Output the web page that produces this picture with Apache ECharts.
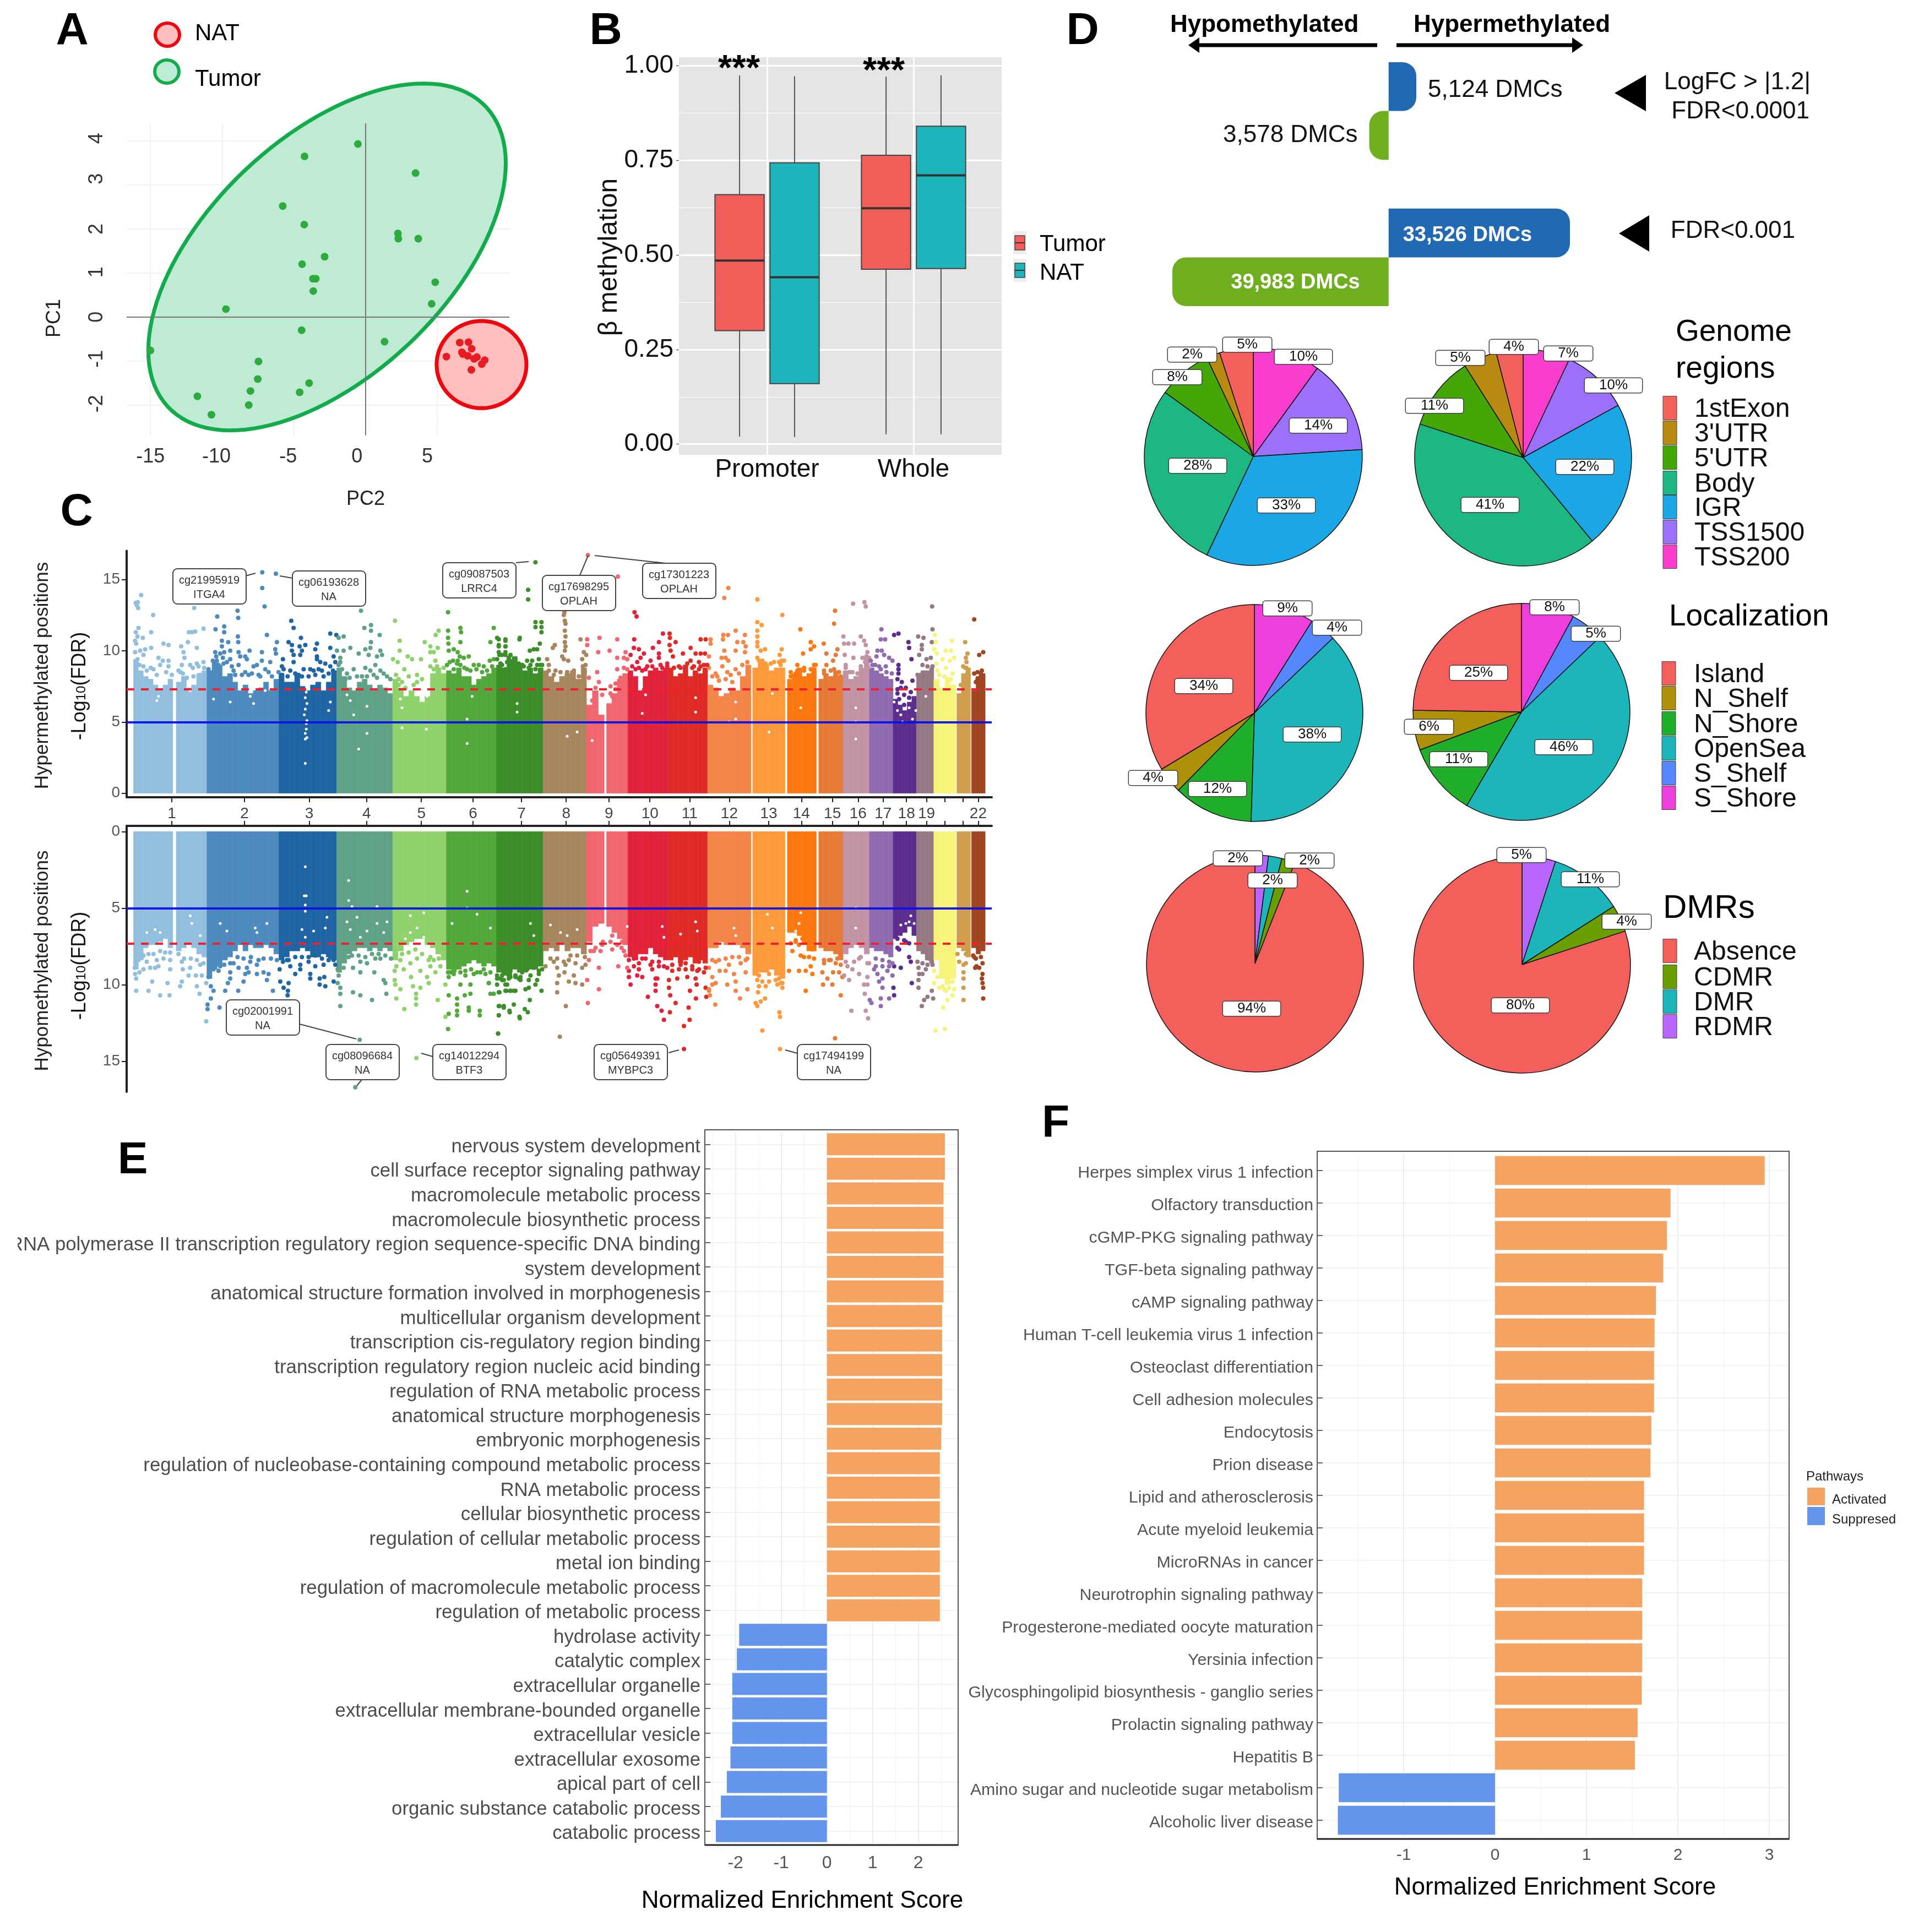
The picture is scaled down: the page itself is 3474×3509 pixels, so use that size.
<!DOCTYPE html>
<html><head><meta charset="utf-8"><style>html,body{margin:0;padding:0;background:#fff}#c{width:3474px;height:3509px}</style>
<script src="https://cdn.jsdelivr.net/npm/echarts@6/dist/echarts.min.js"></script></head><body><div id="c"></div>
<script>
// ---------- A: PCA ----------
const tumorPoints=[[-0.54,3.93],[-4.26,3.65],[3.48,3.27],[-5.78,2.52],[-4.28,2.10],[2.25,1.90],[2.28,1.78],[3.67,1.78],[-2.86,1.37],[-4.43,1.20],[-3.67,0.87],[-3.48,0.87],[-3.65,0.59],[4.85,0.79],[4.60,0.30],[-9.74,0.18],[-4.46,-0.30],[1.32,-0.56],[-15.0,-0.76],[-7.47,-1.01],[-7.52,-1.41],[-3.94,-1.50],[-8.03,-1.68],[-4.60,-1.71],[-11.73,-1.80],[-8.15,-2.0],[-10.75,-2.22]];
const natPoints=[[6.56,-0.58],[7.17,-0.57],[7.39,-0.72],[6.71,-0.80],[6.78,-0.84],[5.63,-0.90],[7.12,-0.88],[7.76,-0.91],[7.56,-0.95],[8.30,-0.98],[8.10,-1.07],[7.37,-1.20]];
const tumorEllipse=[-2.69,1.365,12.46,3.94,0.54];
const natEllipse=[8.08,-1.08,3.13,0.99,0];
// ---------- B: boxes: position, low, q1, median, q3, high ----------
const boxTumor=[[1,0.020,0.300,0.485,0.659,0.974],[2,0.026,0.462,0.623,0.763,0.971]];
const boxNat=[[1,0.019,0.160,0.441,0.743,0.972],[2,0.026,0.464,0.710,0.840,0.974]];
const boxCategories=['Promoter','Whole'];
// ---------- C: Manhattan ----------
const chrColors=['#92BFDD','#4D8BBF','#1F64A3','#5FA287','#8FD26B','#53A83C','#3C8E2A','#A8865D','#F2666F','#E0233A','#E02A26','#F28547','#FE9A3C','#FD780F','#E67B36','#C293A4','#906BB0','#5C2D8E','#957A85','#F6F47A','#CF9D4E','#A04521'];
const chrEnds=[620,836,1009,1177,1338,1488,1628,1758,1882,2003,2121,2251,2353,2447,2527,2606,2677,2747,2799,2865,2909,2953];
const chrTicks=[515,733,927,1099,1263,1418,1563,1697,1825,1948,2067,2186,2304,2402,2495,2572,2647,2717,2777,2832,2886,2932];
const chrLabelled=[1,2,3,4,5,6,7,8,9,10,11,12,13,14,15,16,17,18,19,22];
// start,end,chromosome of each solid stretch of the genome
const chrBands=[[400,518,1],[528,620,1],[620,836,2],[836,1009,3],[1009,1177,4],[1177,1338,5],[1338,1488,6],[1488,1628,7],[1628,1758,8],[1758,1811,9],[1818,1882,9],[1882,2003,10],[2003,2121,11],[2121,2251,12],[2256,2353,13],[2360,2447,14],[2454,2527,15],[2527,2606,16],[2606,2677,17],[2677,2747,18],[2747,2799,19],[2799,2865,20],[2868,2909,21],[2912,2953,22]];
// edge of the solid part along each stretch (hyper: top plot, hypo: bottom plot)
const hyperEdges=[[9.4,8.6,8.2,8.0,7.6,7.3,7.6,8.0],[7.8,8.2,7.4,7.6,8.4,8.6],[8.6,9.2,9.0,8.2,8.4,7.8,7.2,7.6,7.0,7.2,7.4,7.8,7.2,8.0],[8.4,7.8,7.8,8.3,7.5,7.2,7.6,7.8,7.2,7.8,8.6],[8.8,8.2,7.4,7.2,7.8,8,7.6,7.2,7.6,7.4,7.0],[8.0,7.4,6.8,7.2,6.8,6.4,6.8,8.4,8.8,8.4],[8.6,8.4,8.8,8.2,8.2,7.6,8,8.2,8.4,8.8],[9,8.8,9.4,9.6,9,8.6,8.8,8.4,8.8],[8.6,8.2,7.8,8.2,8.4,8.6,8,8.8],[6.2,7.2,5.5],[6.3,7,8,8.4],[8.6,8.2,7.2,8.2,8.6,8.8,8.6,8.8],[8.8,8.2,8.4,9,8.2,8.6,8.4,8.8],[7.6,7.4,6.8,7,7.4,7.2,8.2,9.0],[8.8,9.2,9.0,8.6,8.8,8.8],[8.0,8.4,8.8,8.2,8.4,8.8],[8,8.4,8.2,8.6,8.2],[8.6,8,8.2,8.8,9.6],[8.8,8.6,8.4,8.2,8],[6.6,6.2,5.8,6.4,6.8],[8.2,8.6,8.6,8.8],[8,7.4,8,7.6],[7,8.4,8.8],[7.2,8.2,8.4]];
const hypoEdges=[[9.0,8.4,7.6,7.4,7.4,7.2,7.0,7.6],[7.8,7.6,7.4,7.6,8.0,8.2],[9.6,9,8.8,8.4,8.2,7.8,7.4,7.8,7.4,7.6,7.6,7.4,7.6,8],[8.4,8.2,7.8,7.8,7.6,7.8,8.2,8.2,8,8.2,8.4],[9.2,8.6,8,7.8,7.6,7.6,7.8,7.6,7.8,7.6,7.8],[8.4,7.8,7.4,7.2,7.0,7.0,7.4,7.6,8,8.4],[9,9.2,9,8.8,8.6,8.4,8.6,8.8,8.6,8.8],[9.2,9.4,9.4,9,9.2,9.2,9,9,8.8],[7.8,7.6,7.8,7.4,7.8,7.6,7.6,8.0],[7.2,6.2,6],[6.2,6.6,7,7.4],[8.2,8.4,8,8,7.6,8,8.2,8.4],[8.4,8.2,8.6,8.4,8.2,8.6,8.4,8.6],[7.6,7.6,7.2,7.4,7.4,7.4,7.6,8.0],[9.4,9.2,9.2,9,9.4,9.6],[6.6,6.6,6.8,7.4,7.8,7.8],[7.6,7.8,7.8,8,8.4],[8,7.6,7.4,7.6,8],[7.6,7.8,7.8,8,8.2],[7,6.8,6.6,6.2,6.8],[7.8,8,8.4,8.6],[8.4,9.6,10,9.6],[7.6,7.8,8.2],[7.6,8,7.8]];
const rightShift=1485;
const hyperLeft=[423,13.9,407,13.35,413,13.4,410,13.2,414,13,459,12.5,582,13,415,11.6,407,11.3,412,11,405,10.7,428,10.9,453,11.3,408,10.5,435,10.1,420,10,453,10.2,490,10.5,505,10.4,430,9.7,475,9.5,488,9.3,505,9.3,543,10.3,563,10.6,590,10.2,550,9.9,553,9.5,566,11.3,575,11.3,585,11.35,610,11.55,545,9,570,9,590,9.1,610,9.2,480,9,505,8.9,460,8.7,540,8.5,600,8.3,580,8.2,
651,12.4,712,12.8,714,12.3,646,11.5,672,11.7,672,11.3,713,11,665,10.7,684,10.6,714,10.6,665,10.3,645,9.9,660,9.8,672,9.9,690,10,715,9.9,748,10,735,9.6,785,9.9,690,9.4,720,9.6,650,9.3,670,9.1,740,9.4,770,9,760,8.9,715,9,785,9.3,810,9.2,735,8.5,700,8.6,805,8.5,780,8.2,830,10.6,825,10.1,827,9.8,800,11.1,
793,13.1,786,14.4,786,15.5,827,15.4,873,12.1,880,11.6,902,10.9,865,10.6,875,10.4,898,10.3,915,10.4,950,10.5,945,10.1,905,10,950,9.6,875,10,880,9.7,848,9.4,845,8.9,880,9.2,900,9.7,950,9.4,960,9.2,975,9.1,930,8.7,910,8.7,870,8.6,895,8.3,845,8.3,965,8.6,945,8.3,990,11.2,1008,11.1,1030,11,1015,10.9,990,10.2,1010,10,1000,9.6,1005,9.2,990,8.9,
1082,12.8,1092,11.6,1112,11.8,1112,11.4,1138,11.1,1112,10.6,1110,10.2,1140,10,1095,10.1,1050,10.2,1030,10,1075,9.8,1105,9.7,1145,9.7,1020,9.5,1130,9.6,1020,9.2,1125,9,1095,8.8,1060,8.7,1110,8.6,1150,8.4,1040,8.4,1085,8.2,1170,8,1130,8.1,1035,8,
1184,12.1,1198,10.7,1273,10.6,1315,11.4,1306,11.1,1290,10.3,1312,10.2,1300,9.9,1290,9.9,1198,10,1178,9.4,1222,9.6,1192,9.2,1235,9.4,1262,9.4,1305,9.3,1300,8.7,1212,8.7,1250,8.3,1225,8.2,1195,8,1195,7.6,1250,7.8,1215,7.4,
1343,12.7,1343,11.4,1380,11.6,1382,11.3,1343,10.9,1344,10.5,1380,10.6,1360,10.1,1345,10,1372,9.9,1378,9.6,1372,9.3,1405,9.6,1390,9.5,1380,9,1340,9,1420,9,1435,9,1450,8.9,1400,8.7,1360,8.7,
1480,11.6,1470,10.6,1490,10.9,1515,10.8,1558,10.9,1495,10.4,1515,10.3,1495,9.9,1515,9.7,1530,9.7,1480,9.4,1468,9.3,1500,9.1,1520,9.2,1540,9.3,1555,8.8,1500,8.7,1530,8.7,
405,9.9,412,9.4,418,9.0,430,8.9,440,8.6,452,8.8,470,8.3,498,8.5,515,8.3,535,8.6,548,8.4,560,8.1,578,8.8,595,8.9,612,8.8,625,8.7,638,9.3,648,9.6,655,9,668,9.5,680,9.2,695,8.9,705,8.3,725,8.3,745,8.3,755,8.4,775,8.3,795,8.7,815,8.2,835,8.5,850,8.7,862,8.2,885,8.4,905,8.2,925,8.2,940,8.6,955,8.7,970,8.2,985,8.4,998,8.6,1015,9,1025,8.7,1048,8.1,1070,8.2,1100,8.2,1120,8.3,1140,8.6,1160,8.2,1187,8.3,1205,7.8,1240,7.6,1265,8,1290,8.9,1310,8.9,1330,8.8,1348,9.2,1358,9.3,1370,9.1,1392,8.8,1410,8.6,1428,8.7,1445,8.5,1460,8.6,1475,8.9,1490,9.4,1505,9.7,1525,9.5,1545,8.9,1565,9];
const hyperRight=[120,16.2,98,14.27,98,13.6,120,12,138,12,120,11.65,138,11.65,138,11.3,10,10.8,30,10.7,72,10.8,10,10.3,30,10.3,133,10.5,125,10.1,103,10,115,10.1,30,9.9,12,9.7,40,9.5,60,9.4,110,9.3,95,9.3,70,9.1,130,9.4,15,9.1,135,9,80,9,100,8.8,50,8.9,120,8.7,30,8.7,65,8.5,
277,16.7,207,12.7,205,12.5,208,12.1,210,11.9,208,11.4,210,11,208,10.6,210,10.3,208,10,172,10.2,178,10.4,255,10.8,275,10.8,275,10.4,265,9.9,272,9.7,260,9.4,270,9,155,9.4,205,9.4,218,9.3,200,9.6,160,9,180,8.6,215,8.5,235,8.6,268,8.5,
367,15.2,312,10.9,365,10.8,342,10,308,9.9,365,9.5,305,8.5,385,9.5,385,8.8,365,8.7,360,7.7,345,7,300,7.4,310,7.8,290,6.5,350,6.8,375,8.1,390,9.9,395,9.4,
417,12.7,423,12.4,502,11.2,490,10.6,416,10.8,415,10.2,430,10.1,472,10.2,445,9.8,490,9.8,435,9.5,425,9.2,405,9.7,465,9.3,490,9.5,455,8.9,500,8.8,515,8.9,420,8.7,440,8.6,480,8.6,508,8.3,
522,11.2,523,10.9,540,10.6,522,10.4,615,10.8,630,10.8,645,10.8,645,10.5,585,10.2,600,9.8,615,9.8,628,9.8,562,9.8,525,10,532,9.6,610,9.2,640,9.6,585,9.3,575,9.1,625,9,590,8.8,555,8.8,610,8.7,640,8.8,660,8.4,
698,14.4,686,13.7,720,11.4,683,11.1,697,11.1,682,10.8,748,11.1,725,10.6,743,10.6,750,10.3,686,10,748,9.9,720,10,690,9.5,678,9.5,698,9.3,720,8.7,740,9,680,8.9,665,8.2,705,8.3,695,8.5,
785,13.6,860,12.5,785,12,798,11.8,785,11.4,785,11,785,10.6,785,10.3,808,10.1,795,10,858,10.1,852,9.7,785,9.5,800,9.3,858,9.3,800,9,855,9,825,9.1,
914,11.5,945,10.6,955,10.3,945,10.1,922,9.8,905,9,955,9,885,8.5,925,8.6,900,8.4,950,8.7,
1018,12.8,1015,11.9,1043,11,984,10.5,1025,10.1,992,9.8,1020,9.7,1012,9.3,992,9,985,8.6,1015,8.7,1035,8.2,1045,10.5,1058,10.5,
1072,13.3,1106,13.4,1110,13.1,1095,11,1105,10.7,1110,10.4,1075,10.5,1115,9.9,1047,9.7,1073,9.5,1100,9.5,1108,9.2,1120,9.5,1050,9,1118,8.8,1062,8.5,1085,8.4,
1157,11.5,1155,10.8,1168,10.8,1195,11.1,1208,11.2,1145,10,1158,10,1142,9.6,1165,9.7,1180,9.5,1125,9.3,1190,9.3,1138,9,1170,8.9,1155,8.7,
1208,9,1208,8.7,1208,8.4,1238,10.6,1240,10.2,1247,9.4,1205,8,1218,7.8,1250,7.9,1215,7.4,1230,7.4,1205,7,1245,7.1,1210,6.6,1255,6.5,1225,6.2,
1309,13.1,1310,11.5,1317,11.1,1267,11,1283,10.9,1308,10.6,1278,10.4,1278,10.1,1315,10.1,1270,9.7,1305,9.5,1292,9.4,1280,9,1265,8.3,
1368,10.7,1320,10.6,1350,10,1365,10,1323,9.8,1375,9.5,1340,9.4,1362,9.3,1322,9.1,1350,8.8,1370,8.4,1330,8.3,1355,8,
1408,10.6,1415,9.8,1410,9.5,1412,9.2,1408,8.8,1405,8.1,1395,7.6,1415,8.4,
1435,12.2,1462,9.9,1450,9.7,1458,8.6,1455,8.2,1445,8,1440,7.8,
20,9,35,9.2,55,8.9,85,8.9,105,9,125,9,140,9,160,8.6,175,8.3,195,8.5,225,8.2,250,8.2,262,8.9,280,8.1,300,7,320,6.9,345,7.5,360,7.3,375,7.9,395,8.7,410,8.9,430,8.8,450,8.7,470,8.9,495,9,515,9.1,535,8.8,550,8.9,570,8.8,595,8.9,615,8.9,635,9,650,8.2,670,7.9,690,8,710,7.8,730,8.4,755,9.2,790,9.3,810,9.1,835,9.2,850,9.2,865,9.3,885,8.2,905,8.6,925,8.8,945,8.7,960,9,985,8.4,1005,8.6,1030,8.5,1050,8.8,1070,8.5,1095,8.9,1112,9.6,1130,9,1150,8.9,1172,8.5,1188,8.4,1205,7.3,1225,6.9,1240,6.7,1275,8.3,1295,8.9,1310,8.9,1325,8.6,1345,8.2,1365,8,1402,8.9,1412,8.8,1435,8.4,1445,8.5,1455,8.4];
const hyperSparse=[915,2.1,915,3.8,920,3.9,915,4.2,918,4.5,918,4.9,920,5.1,912,5.5,915,5.9,920,6.3,915,6.7,918,7.1,470,6.5,475,6.8,570,7.2,640,6.6,690,6.4,760,6.3,750,6.8,795,7.2,985,5.8,990,6.4,1060,5.5,1050,6.5,1040,6.9,1100,6.1,1075,3.1,1100,4.2,1205,4.6,1205,6,1278,4.5,1280,6.8,1200,6.6,1400,3.5,1400,5.2,1415,6.8,1550,5.7,1550,6.3,1700,4,1730,4.3,1775,3.7,1925,5.6,1935,6.9,2085,5.7,2085,6.7,2185,5,2205,6.4,2205,5.2,2305,4.3,2315,7,2400,6,2565,3.8,2565,5,2565,6,2700,5.5,2735,5.2,2705,5,2725,6,2745,5.8,2775,6.8,2680,6.4,2690,5.8];
const hypoLeft=[408,8.8,405,9.3,418,9.2,408,9.6,456,9.8,408,10.4,445,10.4,480,10.7,508,10.7,502,9.9,510,9,475,8.8,465,8.9,450,8.9,430,9,440,8.5,470,8.4,490,8.3,510,8.4,425,8.2,545,8.5,548,9,565,9.4,545,9.8,540,10.1,590,10.1,598,10.6,587,9.4,605,9.4,618,9.9,570,8.9,600,8.7,622,11.3,622,11.6,618,12.4,632,10.9,
632,10.1,640,10.4,675,10.4,683,9.9,714,10.4,737,11.2,658,11.5,625,9.5,640,9,660,8.8,690,9.2,715,8.9,740,8.9,735,9.3,745,9.2,770,9.3,790,9.2,800,9.7,805,9.3,818,10.4,690,9.6,730,9.8,770,8.7,700,8.6,750,8.5,650,8.3,
852,11.1,850,10.2,863,10.4,862,10.7,840,9.8,865,9.9,838,9,870,8.8,885,9.3,900,9,930,9.3,930,9.6,958,9.6,972,9.5,958,10,975,10.1,900,8.7,925,8.5,945,8.8,970,8.7,1000,9.8,1012,9.9,1005,8.7,1012,9,860,8.4,990,8.2,
1020,10.2,1020,10.6,1020,11.4,1058,10.5,1080,10.7,1115,11,1158,10.6,1150,9.7,1155,9.9,1122,9.2,1080,9.2,1058,8.9,1030,8.9,1080,8.5,1100,8.6,1125,8.3,1140,8.3,1078,13.6,1065,16.7,1045,8.2,
1248,14.8,1185,10,1183,9.7,1200,10.3,1188,10.9,1212,11.6,1247,10.6,1247,10.9,1247,11.3,1238,10.1,1260,10.2,1183,9.1,1210,9,1260,9.1,1290,8.8,1305,9.2,1280,9.5,1312,11,1285,9.9,1232,9.5,1230,8.6,1250,8.3,1290,8.2,1200,8.4,1315,8.3,
1343,12.9,1335,12.1,1345,11.9,1370,10.9,1370,11.3,1370,11.7,1370,12,1393,10.7,1410,10.6,1405,11.5,1405,11.7,1438,11.7,1438,12,1345,10.7,1335,10,1345,9.5,1380,10,1410,10,1350,9.2,1395,9.4,1440,9.2,1420,9.3,1455,9.3,1465,9.9,
1493,13.2,1495,12,1558,12.2,1497,11.4,1510,11.5,1528,11.8,1470,10.6,1480,10.6,1497,10.5,1518,10.4,1530,10.4,1545,10.4,1490,10,1515,10,1465,9.9,1500,9.6,1530,9.5,1555,9.6,
404,8.9,415,8.4,430,8.1,445,8,460,8,480,7.8,495,7.9,510,7.9,535,8,552,8.3,572,8.3,590,8.4,610,8.6,628,9.2,640,8.6,655,9.1,672,8.7,690,8.6,712,8.2,730,8.3,752,8.2,775,8.4,790,8.3,812,8.3,830,8.4,848,8.5,865,8.4,885,8.2,905,8.2,925,8.2,945,8.1,965,8.3,985,8.4,1000,8.4,1015,9.4,1030,8.4,1055,8.1,1075,8.1,1095,8.2,1115,8,1135,8,1155,8.1,1172,8.3,1188,8.8,1205,8,1225,7.9,1245,7.7,1265,8,1285,8.4,1300,8.4,1320,8.8,1343,9.2,1360,9.3,1380,9.2,1395,9.1,1412,9,1430,9.2,1450,9,1470,9.2,1490,9.6,1510,9.7,1525,9.4,1545,9.4,1560,9.5];
const hypoRight=[8,13.2,10,11.4,25,11.4,55,11.3,42,11.7,10,12,72,12.1,88,11.6,97,11.8,103,11,10,10.5,30,10.4,45,10.4,55,10.4,90,10.3,100,10.2,138,10.4,120,10,35,10,75,9.7,100,9.7,125,9.7,130,9.3,60,9.4,20,9.4,140,9,95,9,45,9.1,115,8.9,
193,13.4,211,11.4,277,11.2,185,10.5,185,9.9,240,9.9,220,9.8,260,10,275,9.7,190,9.4,207,9.2,235,9.4,185,8.9,210,8.7,260,8.9,270,8.7,175,8.5,240,8.6,220,8.4,280,8.4,
310,10.3,310,8.9,368,8.8,350,7.7,322,7.2,315,7.8,295,7.8,385,7.8,390,8.1,350,6.8,380,7.2,
405,10,400,9.5,400,9.1,395,8.9,457,10.8,485,11.4,498,11.7,505,12.3,480,10.4,480,10,480,9.6,485,9.6,425,9.4,440,9.5,430,9,465,8.7,470,9,505,8.8,415,8.8,440,8.3,490,8.5,510,8.1,
523,11.8,520,9.7,520,10.2,524,10.7,565,12.7,582,12.3,565,14.2,540,11.2,579,11.5,601,10.9,632,10.8,640,10.4,583,10.4,630,10.2,603,10,600,9.6,575,9.5,545,9.6,530,9.1,605,9.1,625,9.2,590,8.8,555,8.7,610,8.5,570,8.6,
659,11.3,733,10.9,720,10.4,755,10.3,660,9.9,650,10,695,10,720,9.8,650,9.5,672,9.1,690,9.1,715,9.3,750,9.2,640,8.9,660,8.5,700,8.7,735,8.6,755,8.3,640,10.3,643,10.7,
800,13,853,14.2,851,11.8,853,12.1,780,11.2,795,11.1,808,10.9,785,11.4,790,10.1,787,10.5,810,10.1,845,10,855,9.9,860,10.2,790,9.4,820,9.3,850,9.6,
880,9.1,910,9.1,930,9.1,930,10.4,950,9.3,945,8.8,915,8.1,890,7.8,910,7.4,940,7.4,920,7,950,7.7,900,7.1,
1018,13.5,1035,10.7,982,10,1010,10,995,9.6,980,9.2,1012,9.2,1030,9.2,1005,8.4,985,8.4,1025,8.3,1040,9.5,
1067,11.7,1110,11.7,1117,12.2,1122,11,1127,11.2,1107,10.6,1105,10,1115,10,1060,9.7,1045,9.4,1090,9.3,1115,9.5,1070,9,1050,8.5,1090,8.3,1120,8.6,
1155,11.4,1155,10.9,1180,10.9,1195,10.7,1193,10.2,1160,10.2,1150,9.8,1160,9.6,1145,9.3,1190,9.4,1175,9.1,1135,9,1195,8.8,1160,8.8,1140,8.3,1180,8.5,
1248,9.9,1215,8.9,1240,8.2,1245,8.5,1210,7.7,1230,7.2,1205,7,
1319,13,1312,10.9,1295,10.8,1285,11,1278,11.4,1308,10.4,1268,9.7,1268,10.2,1280,9.3,1315,9.9,1270,9.3,1290,9,1310,8.7,1265,8.5,1300,8.3,1268,8.9,
1347,12.9,1342,11.5,1355,11,1370,10.7,1350,10.4,1340,10.1,1370,9.8,1325,9.5,1355,9.8,
1403,11,1403,10.2,1403,9.6,1403,9.2,1403,8.7,1385,8,1410,8,
1462,10.9,1462,10.2,1460,9.9,1458,9.6,1460,9.3,1450,8.9,1435,8.2,1432,8.1,1438,8.9,1460,8.6,1442,8.8,
5,9.4,20,9.7,40,9.6,60,9.5,80,9.2,105,9.4,130,9.1,150,8.8,165,8.3,185,8.3,205,8.5,225,8.1,245,8.1,268,8.2,285,7.8,300,7.6,320,7.4,345,7.2,365,7.4,378,7.6,400,8.4,415,8.3,430,8.6,450,8.3,470,8.5,490,8.8,515,8.9,530,8.7,550,9,570,9,590,9,610,9,630,8.9,650,8.4,670,8.4,690,8.3,710,8.2,730,8.2,750,8.4,785,9.7,800,9.8,820,9.8,840,9.7,860,9.9,885,7.3,900,7.2,925,8.2,940,8.2,955,8.3,985,8.6,1000,8.4,1020,8.6,1035,8.7,1055,8.8,1075,8.5,1095,8.2,1115,8.6,1140,8.8,1160,8.4,1180,8.8,1190,8.6,1205,7.6,1225,7.1,1240,7.3,1280,8.6,1295,8.7,1315,9.1,1330,10.2,1345,10.3,1360,10.2,1375,10.3,1390,8.5,1410,8.6,1440,8.3,1455,8.2];
const hypoSparse=[915,2.3,918,4.2,912,4.2,915,4.8,915,5.2,1045,3.2,1045,4.5,1130,4.9,1055,4.9,1070,5.6,1040,5.9,1130,6,1160,5.9,1050,6.4,1100,6.5,1150,6.6,1080,6.9,1230,5.5,1270,5.3,1250,6.3,1230,6.6,1270,6.9,1215,7,1355,6,1400,3.9,1400,5,1430,5.4,1470,6.3,660,6,680,6.5,765,6.3,800,6,770,6.6,905,6.4,940,6.5,975,6.3,980,5.6,915,6.9,465,6.4,440,6.6,480,6.6,575,6,570,5.5,600,6.8,1590,6,1600,6.8,1650,6.1,1680,6.6,1700,6.8,1730,6.4,1880,6.2,1985,6.2,1990,6.9,2040,6.7,2090,6.5,2085,5.9,2200,6.3,2205,6.8,2300,5.4,2315,6.3,2400,5.3,2395,6,2385,6.5,2565,6.3,2565,5,2715,6,2700,6.1,2730,5.5,2725,5.9,2740,6];
// ---------- D ----------
const dmcHyper=[5124,33526];
const dmcHypo=[3578,39983];
const genomeRegions=['1stExon',"3'UTR","5'UTR",'Body','IGR','TSS1500','TSS200'];
const genomeLeft=[5,2,8,28,33,14,10];
const genomeRight=[4,5,11,41,22,10,7];
const genomeColors=['#F4605C','#B98A12','#44A707','#1DB882','#1BA7E6','#9B70FA','#F93ECF'];
const localization=['Island','N_Shelf','N_Shore','OpenSea','S_Shelf','S_Shore'];
const locLeft=[34,4,12,38,4,9];
const locRight=[25,6,11,46,5,8];
const locColors=['#F55F5B','#AE9009','#20AF2A','#1CB5BA','#5588FF','#EE3FDC'];
const dmrTypes=['Absence','CDMR','DMR','RDMR'];
const dmrLeft=[94,2,2,2];
const dmrRight=[80,4,11,5];
const dmrColors=['#F55F5B','#6B9E00','#1CB5BA','#B966FF'];
// ---------- E, F ----------
const goTerms=['nervous system development','cell surface receptor signaling pathway','macromolecule metabolic process','macromolecule biosynthetic process','RNA polymerase II transcription regulatory region sequence-specific DNA binding','system development','anatomical structure formation involved in morphogenesis','multicellular organism development','transcription cis-regulatory region binding','transcription regulatory region nucleic acid binding','regulation of RNA metabolic process','anatomical structure morphogenesis','embryonic morphogenesis','regulation of nucleobase-containing compound metabolic process','RNA metabolic process','cellular biosynthetic process','regulation of cellular metabolic process','metal ion binding','regulation of macromolecule metabolic process','regulation of metabolic process','hydrolase activity','catalytic complex','extracellular organelle','extracellular membrane-bounded organelle','extracellular vesicle','extracellular exosome','apical part of cell','organic substance catabolic process','catabolic process'];
const goNES=[2.58,2.58,2.55,2.55,2.55,2.55,2.55,2.52,2.52,2.52,2.52,2.52,2.50,2.47,2.47,2.47,2.47,2.47,2.47,2.47,-1.92,-1.97,-2.07,-2.07,-2.07,-2.11,-2.19,-2.32,-2.43];
const keggTerms=['Herpes simplex virus 1 infection','Olfactory transduction','cGMP-PKG signaling pathway','TGF-beta signaling pathway','cAMP signaling pathway','Human T-cell leukemia virus 1 infection','Osteoclast differentiation','Cell adhesion molecules','Endocytosis','Prion disease','Lipid and atherosclerosis','Acute myeloid leukemia','MicroRNAs in cancer','Neurotrophin signaling pathway','Progesterone-mediated oocyte maturation','Yersinia infection','Glycosphingolipid biosynthesis - ganglio series','Prolactin signaling pathway','Hepatitis B','Amino sugar and nucleotide sugar metabolism','Alcoholic liver disease'];
const keggNES=[2.95,1.92,1.88,1.84,1.76,1.745,1.74,1.74,1.71,1.70,1.63,1.63,1.63,1.61,1.61,1.61,1.605,1.56,1.53,-1.71,-1.72];

// ---------- layout helpers ----------
const FONT='"Liberation Sans"';
const ORANGE='#F4A460',BLUE='#6495ED';
const pairs=(flat,shift=0)=>{const o=[];for(let i=0;i<flat.length;i+=2)o.push([flat[i]+shift,flat[i+1]]);return o;};
const chrColorAt=x=>{for(let i=0;i<chrEnds.length;i++)if(x<chrEnds[i])return chrColors[i];return chrColors[21];};
const columns=edges=>{const o=[];chrBands.forEach((b,i)=>{const n=edges[i].length,w=(b[1]-b[0])/n;edges[i].forEach((h,j)=>o.push([b[0]+j*w,b[0]+(j+1)*w,h,b[2]]));});return o;};
const G=[];
const T=(text,x,y,size,o={})=>G.push({type:'text',x,y:y+3,z:100,rotation:o.rot||0,style:{text,fontFamily:FONT,fontSize:size,fontWeight:o.w||'normal',fill:o.c||'#000',textAlign:o.a||'left',textVerticalAlign:'middle',rich:o.rich}});
const R=(x,y,w,h,fill,o={})=>G.push({type:'rect',z:o.z||100,shape:{x,y,width:w,height:h,r:o.r||0},style:{fill,stroke:o.s||null,lineWidth:o.lw||0}});
const L=(x1,y1,x2,y2,c,w)=>G.push({type:'line',z:100,shape:{x1,y1,x2,y2},style:{stroke:c,lineWidth:w}});
const P=(pts,c)=>G.push({type:'polygon',z:100,shape:{points:pts},style:{fill:c}});
const V=Math.PI/2;

// letters
[['A',131,54],['B',1100,54],['D',1966,54],['C',139,928],['E',241,2105],['F',1917,2039]].forEach(a=>T(a[0],a[1],a[2],82,{w:'bold',a:'center'}));
// A legend and titles
G.push({type:'ellipse',z:100,shape:{cx:304,cy:63,rx:22,ry:21},style:{fill:'#FFBFBF',stroke:'#F0050F',lineWidth:6}});
G.push({type:'ellipse',z:100,shape:{cx:303,cy:130,rx:22,ry:21},style:{fill:'#BFEBD5',stroke:'#13AC4D',lineWidth:6}});
T('NAT',354,58,42);T('Tumor',354,141,42);
T('PC2',664,904,36,{a:'center',c:'#222'});T('PC1',99,575,36,{a:'center',rot:V,c:'#222'});
// B
T('***',1342,124,65,{w:'bold',a:'center'});T('***',1605,128,65,{w:'bold',a:'center'});
T('β methylation',1107,464,48,{a:'center',rot:V,c:'#111'});
R(1840,420,24,42,'#EDEDED');R(1840,470,24,42,'#EDEDED');
R(1843,428,18,26,'#F35E5A',{s:'#444',lw:1.5});R(1843,478,18,26,'#1DB5BB',{s:'#444',lw:1.5});
L(1843,441,1861,441,'#333',2);L(1843,491,1861,491,'#333',2);
T('Tumor',1888,441,42);T('NAT',1888,493,42);
// C titles
const logRich={s:{fontSize:24,fontFamily:FONT,verticalAlign:'bottom',fill:'#111',lineHeight:30},n:{fontSize:36,fontFamily:FONT,fill:'#111',lineHeight:30}};
T('Hypermethylated positions',77,1224,35,{a:'center',rot:V,c:'#222'});
T('{n|-Log}{s|10}{n|(FDR)}',145,1243,36,{a:'center',rot:V,rich:logRich});
T('Hypomethylated positions',77,1742,35,{a:'center',rot:V,c:'#222'});
T('{n|-Log}{s|10}{n|(FDR)}',145,1751,36,{a:'center',rot:V,rich:logRich});
// C gene callouts
const callouts=[['cg21995919','ITGA4',314,1033,[[446,1046,464,1041]]],['cg06193628','NA',531,1037,[[508,1046,531,1050]]],['cg09087503','LRRC4',804,1022,[[937,1022,960,1020]]],['cg17698295','OPLAH',985,1045,[[1053,1045,1068,1009]]],['cg17301223','OPLAH',1167,1023,[[1080,1009,1209,1023]]],['cg02001991','NA',411,1816,[[544,1860,647,1887]]],['cg08096684','NA',592,1897,[[657,1961,648,1972]]],['cg14012294','BTF3',786,1897,[[765,1913,786,1919]]],['cg05649391','MYBPC3',1079,1897,[[1214,1912,1233,1907]]],['cg17494199','NA',1448,1897,[[1426,1907,1448,1913]]]];
callouts.forEach(c=>{R(c[2],c[3],133,64,'#fff',{s:'#444',lw:2,r:8});T(c[0],c[2]+66,c[3]+18,20,{a:'center',c:'#333'});T(c[1],c[2]+66,c[3]+44,20,{a:'center',c:'#333'});c[4].forEach(l=>L(l[0],l[1],l[2],l[3],'#444',2));});
// D headers and arrows
T('Hypomethylated',2125,43,44,{w:'bold'});T('Hypermethylated',2567,43,44,{w:'bold'});
L(2172,82,2501,82,'#000',7);P([[2158,82],[2178,68],[2178,96]],'#000');
L(2536,82,2862,82,'#000',7);P([[2875,82],[2855,68],[2855,96]],'#000');
P([[2932,169],[2989,136],[2989,202]],'#000');P([[2940,424],[2995,391],[2995,457]],'#000');
T('LogFC > |1.2|',3288,147,44,{a:'right',c:'#111'});T('FDR<0.0001',3286,200,44,{a:'right',c:'#111'});T('FDR<0.001',3260,417,44,{a:'right',c:'#111'});
// D legends
T('Genome',3043,601,55);T('regions',3043,668,55);T('Localization',3031,1118,55);T('DMRs',3020,1647,60);
const keyList=(names,cols,x,ys,h,tx)=>names.forEach((n,i)=>{R(x,ys[i]-h/2,25,h,cols[i],{s:'#444',lw:1});T(n,tx,ys[i],48,{c:'#111'});});
keyList(genomeRegions,genomeColors,3020,[741,786,831,877,921,966,1011],43,3077);
keyList(localization,locColors,3018,[1223,1268,1314,1359,1404,1449],43,3076);
keyList(dmrTypes,dmrColors,3020,[1727,1774,1819,1864],43,3076);
// E,F frames
R(1280,2052,460,1299,'none',{s:'#555',lw:2,z:60});L(1280,3351,1740,3351,'#222',3);
R(2392,2091,857,1249,'none',{s:'#555',lw:2,z:60});L(2392,3340,3249,3340,'#222',3);
R(0,2238,32,48,'#fff',{z:120});
T('Normalized Enrichment Score',1457,3450,44,{a:'center'});T('Normalized Enrichment Score',2824,3426,44,{a:'center'});
T('Pathways',3280,2679,24,{c:'#222'});
R(3282,2702,32,32,ORANGE);R(3282,2737,32,33,BLUE);T('Activated',3327,2721,24,{c:'#222'});T('Suppresed',3327,2757,24,{c:'#222'});

// ---------- option pieces ----------
const grid=(l,t,w,h,o={})=>Object.assign({left:l,top:t,width:w,height:h,containLabel:false},o);
const grids=[grid(230,224,695,566.5),grid(1233,104,586,722,{show:true,backgroundColor:'#E5E5E5',borderWidth:0}),grid(230,1000.6,1571,447.4),grid(230,1500,1571,483),grid(2129,113,722,443),grid(1280,2056,460,1292),grid(2392,2096.5,857,1239)];
const none={show:false,onZero:false};
const lab=(s,c,m,o={})=>Object.assign({fontFamily:FONT,fontSize:s,color:c,margin:m},o);
const vx=(gi,min,max,ticks,labelCfg,o={})=>Object.assign({type:'value',gridIndex:gi,min,max,axisLine:none,axisTick:{show:false,customValues:ticks},axisLabel:Object.assign({customValues:ticks},labelCfg),splitLine:{show:false}},o);
const chrAxisLine={show:true,onZero:false,lineStyle:{color:'#222',width:4}};
const xAxes=[
 vx(0,-16.66,10.02,[-15,-10,-5,0,5],lab(36,'#333',22,{customValues:[-15,-10.4,-5.4,-0.6,4.3],formatter:v=>String(Math.round(v/5)*5)}),{splitLine:{show:true,lineStyle:{color:'#F1F1F1',width:2}}}),
 vx(1,0.3985,2.6015,[1,2],lab(46,'#111',4,{formatter:v=>boxCategories[v-1]}),{splitLine:{show:true,lineStyle:{color:'#fff',width:2.5}}}),
 vx(2,379.6,2972.6,chrTicks,Object.assign(lab(28,'#444',16),{customValues:chrTicks.filter((t,i)=>chrLabelled.includes(i+1)),formatter:v=>String(chrTicks.indexOf(v)+1)}),{axisLine:chrAxisLine,axisTick:{show:true,customValues:chrTicks,length:9,lineStyle:{color:'#222',width:2}}}),
 vx(3,379.6,2972.6,chrTicks,{show:false},{position:'top',axisLine:chrAxisLine,axisTick:{show:true,customValues:chrTicks,length:9,lineStyle:{color:'#222',width:2}}}),
 {type:'value',gridIndex:4,min:-39983,max:33526,show:false},
 vx(5,-2.67,2.87,[-2,-1,0,1,2],lab(32,'#555',20),{splitLine:{show:true,lineStyle:{color:'#E8E8E8',width:1.5}}}),
 vx(6,-1.946,3.217,[-1,0,1,2,3],lab(30,'#555',19),{splitLine:{show:true,lineStyle:{color:'#E8E8E8',width:1.5}}}),
 vx(5,-2.67,2.87,[-2.5,-1.5,-0.5,0.5,1.5,2.5],{show:false},{splitLine:{show:true,lineStyle:{color:'#F3F3F3',width:1}}}),
 vx(6,-1.946,3.217,[-1.5,-0.5,0.5,1.5,2.5],{show:false},{splitLine:{show:true,lineStyle:{color:'#F3F3F3',width:1}}}),
];
const cLab=lab(28,'#555',12);
const yAxes=[
 vx(0,-2.685,4.40,[-2,-1,0,1,2,3,4],lab(36,'#333',36,{rotate:90,customValues:[-1.97,-0.95,0,1.02,2.0,3.14,4.06],formatter:v=>String(Math.round(v))}),{splitLine:{show:true,lineStyle:{color:'#F1F1F1',width:2}}}),
 vx(1,-0.028,1.022,[0,0.25,0.5,0.75,1],lab(46,'#111',10,{formatter:v=>v.toFixed(2)}),{axisTick:{show:true,customValues:[0,0.25,0.5,0.75,1],length:5,lineStyle:{color:'#333'}},splitLine:{show:true,lineStyle:{color:'#fff',width:3}}}),
 vx(2,-0.28,17,[0,5,10,15],cLab,{axisLine:chrAxisLine,axisTick:{show:true,customValues:[0,5,10,15],length:9,lineStyle:{color:'#222',width:2}}}),
 vx(3,-0.37,17,[0,5,10,15],cLab,{inverse:true,axisLine:chrAxisLine,axisTick:{show:true,customValues:[0,5,10,15],length:9,lineStyle:{color:'#222',width:2}}}),
 {type:'category',gridIndex:4,show:false,inverse:true,data:['LogFC hyper','LogFC hypo','','FDR hyper','FDR hypo']},
 {type:'category',gridIndex:5,inverse:true,data:goTerms,axisLine:none,axisTick:{show:true,inside:true,alignWithLabel:true,length:10,lineStyle:{color:'#666',width:2}},axisLabel:lab(34.8,'#4D4D4D',8,{interval:0,verticalAlign:'top',lineHeight:10}),splitLine:{show:true,alignWithLabel:true,lineStyle:{color:'#EFEFEF',width:1.5}}},
 {type:'category',gridIndex:6,inverse:true,data:keggTerms,axisLine:none,axisTick:{show:true,inside:true,alignWithLabel:true,length:10,lineStyle:{color:'#666',width:2}},axisLabel:lab(30.3,'#555',7,{interval:0,verticalAlign:'top',lineHeight:10}),splitLine:{show:true,alignWithLabel:true,lineStyle:{color:'#EFEFEF',width:1.5}}},
 vx(1,-0.028,1.022,[0.125,0.375,0.625,0.875],{show:false},{splitLine:{show:true,lineStyle:{color:'#fff',width:1.2}}}),
];
const base={animation:false,silent:true,emphasis:{disabled:true}};
const ellipseSeries=(e,fill,stroke)=>Object.assign({},base,{type:'custom',xAxisIndex:0,yAxisIndex:0,clip:false,z:1,data:[e],
 renderItem:(p,api)=>{const [cx,cy,wx,wy,rho]=[0,1,2,3,4].map(i=>api.value(i));const phi=Math.acos(rho);const pts=[];
  for(let i=0;i<120;i++){const t=i/120*2*Math.PI;pts.push(api.coord([cx+wx*Math.cos(t),cy+wy*Math.cos(t-phi)]));}
  return {type:'polygon',shape:{points:pts},style:{fill,stroke,lineWidth:7}};}});
const scatterA=(d,c)=>Object.assign({},base,{type:'scatter',xAxisIndex:0,yAxisIndex:0,data:d,symbolSize:14,z:3,clip:false,itemStyle:{color:c,opacity:1}});
const DODGE=0.1877,HALF=0.168;
const boxSeries=(rows,sign,fill)=>Object.assign({},base,{type:'custom',xAxisIndex:1,yAxisIndex:1,z:3,data:rows,
 renderItem:(p,api)=>{const c=api.value(0)+sign*DODGE;const co=(x,y)=>api.coord([x,y]);
  const [lo,q1,me,q3,hi]=[1,2,3,4,5].map(i=>api.value(i));const a=co(c-HALF,q3),b=co(c+HALF,q1),l=co(c,lo),h=co(c,hi),m1=co(c-HALF,me),m2=co(c+HALF,me),qt=co(c,q3),qb=co(c,q1);
  const ln=(s,e,w,col)=>({type:'line',shape:{x1:s[0],y1:s[1],x2:e[0],y2:e[1]},style:{stroke:col,lineWidth:w}});
  return {type:'group',children:[ln(h,qt,2,'#555'),ln(qb,l,2,'#555'),{type:'rect',shape:{x:a[0],y:a[1],width:b[0]-a[0],height:b[1]-a[1]},style:{fill,stroke:'#444',lineWidth:2}},ln(m1,m2,4,'#333')]};}});
const bandSeries=(rows,gi)=>Object.assign({},base,{type:'custom',xAxisIndex:gi,yAxisIndex:gi,z:1,data:rows,
 renderItem:(p,api)=>{const a=api.coord([api.value(0),api.value(2)]),b=api.coord([api.value(1),0]);
  return {type:'rect',shape:{x:a[0],y:Math.min(a[1],b[1]),width:b[0]-a[0],height:Math.abs(b[1]-a[1])},style:{fill:chrColors[api.value(3)-1],stroke:chrColors[api.value(3)-1],lineWidth:0.6}};}});
const dotSeries=(d,gi)=>Object.assign({},base,{type:'scatter',xAxisIndex:gi,yAxisIndex:gi,z:3,clip:false,symbolSize:8,data:d,itemStyle:{opacity:1,color:p=>chrColorAt(p.value[0])}});
const sparseSeries=(d,gi)=>Object.assign({},base,{type:'scatter',xAxisIndex:gi,yAxisIndex:gi,z:2,symbolSize:5,data:d,itemStyle:{opacity:1,color:'#fff'}});
const refLines=gi=>Object.assign({},base,{type:'line',xAxisIndex:gi,yAxisIndex:gi,z:5,data:[],markLine:{silent:true,symbol:'none',animation:false,label:{show:false},data:[{yAxis:5,lineStyle:{color:'#0A10E8',width:4,type:'solid',opacity:.95}},{yAxis:7.3,lineStyle:{color:'#F02030',width:4,type:[14,12]}}]}});
const fmt=n=>n.toLocaleString('en-US')+' DMCs';
const dmcLab=(v,pos,dist,c,s,w,dy)=>({value:v,label:{show:true,position:pos,distance:dist,offset:[0,dy],color:c,fontSize:s,fontWeight:w,fontFamily:FONT,formatter:fmt(Math.abs(v))}});
const dmcBar=(data,color,radius)=>Object.assign({},base,{type:'bar',xAxisIndex:4,yAxisIndex:4,stack:'dmc',barWidth:'100%',data,itemStyle:{color,borderRadius:radius}});
const nesBars=(d,gi,w)=>Object.assign({},base,{type:'bar',xAxisIndex:gi,yAxisIndex:gi,barWidth:w,z:3,data:d,itemStyle:{color:p=>p.value>0?ORANGE:BLUE}});
const pie=(vals,names,cols,cx,cy,r,pos)=>{const order=vals.map((_,i)=>vals.length-1-i);
 return Object.assign({},base,{type:'pie',center:[cx,cy],radius:[0,r],startAngle:90,clockwise:true,avoidLabelOverlap:false,minShowLabelAngle:0,z:4,
  labelLine:{show:false},
  labelLayout:p=>{const q=pos[order[p.dataIndex]];return {x:q[0],y:q[1]+2,align:'center',verticalAlign:'middle'};},
  data:order.map(i=>({name:names[i],value:vals[i],itemStyle:{color:cols[i],borderColor:'#111',borderWidth:1.5},
   label:{show:true,position:'outside',formatter:vals[i]+'%',fontFamily:FONT,fontSize:26,color:'#111',backgroundColor:'#fff',borderColor:'#444',borderWidth:1.5,borderRadius:4,width:vals[i]>=10?104:88,height:26,lineHeight:26,align:'center',verticalAlign:'middle',padding:0}}))});};

const series=[
 ellipseSeries(tumorEllipse,'#BFEBD5','#13AC4D'),ellipseSeries(natEllipse,'#FFBFBF','#F0050F'),
 scatterA(tumorPoints,'#2EAA3E'),scatterA(natPoints,'#E81C22'),
 Object.assign({},base,{type:'line',xAxisIndex:0,yAxisIndex:0,z:2,data:[],markLine:{silent:true,symbol:'none',animation:false,label:{show:false},lineStyle:{color:'#777',width:2,type:'solid'},data:[{xAxis:0},{yAxis:0}]}}),
 boxSeries(boxTumor,-1,'#F35E5A'),boxSeries(boxNat,1,'#1DB5BB'),
 bandSeries(columns(hyperEdges),2),sparseSeries(pairs(hyperSparse),2),dotSeries(pairs(hyperLeft).concat(pairs(hyperRight,rightShift)),2),refLines(2),
 bandSeries(columns(hypoEdges),3),sparseSeries(pairs(hypoSparse),3),dotSeries(pairs(hypoLeft).concat(pairs(hypoRight,rightShift)),3),refLines(3),
 dmcBar([dmcLab(dmcHyper[0],'right',21,'#111',44,'normal',7),null,null,dmcLab(dmcHyper[1],'insideLeft',26,'#fff',38,'bold',4),null],'#2269B3',[0,25,25,0]),
 dmcBar([null,dmcLab(-dmcHypo[0],'left',21,'#111',44,'normal',0),null,null,dmcLab(-dmcHypo[1],'insideRight',52,'#fff',38,'bold',2)],'#6FAE1E',[25,0,0,25]),
 nesBars(goNES,5,40),nesBars(keggNES,6,52.6),
 pie(genomeLeft,genomeRegions,genomeColors,2276,829,198,[[2265,624],[2165,642],[2138,683],[2175,844],[2336,916],[2394,771],[2367,646]]),
 pie(genomeRight,genomeRegions,genomeColors,2766,831,197,[[2749,628],[2652,648],[2605,735],[2706,915],[2878,846],[2930,698],[2848,640]]),
 pie(locLeft,localization,locColors,2278,1295,197,[[2186,1244],[2094,1411],[2211,1431],[2383,1332],[2428,1138],[2338,1103]]),
 pie(locRight,localization,locColors,2763,1293,197,[[2685,1220],[2595,1318],[2649,1377],[2840,1355],[2898,1149],[2823,1101]]),
 pie(dmrLeft,dmrTypes,dmrColors,2279,1750,197,[[2273,1830],[2378,1561],[2311,1597],[2248,1557]]),
 pie(dmrRight,dmrTypes,dmrColors,2764,1752,197,[[2761,1824],[2954,1672],[2888,1595],[2763,1551]]),
];
const chart=echarts.init(document.getElementById('c'),null,{renderer:'canvas',width:3474,height:3509});
chart.setOption({animation:false,backgroundColor:'#fff',textStyle:{fontFamily:FONT},grid:grids,xAxis:xAxes,yAxis:yAxes,series,graphic:{elements:G}});
</script></body></html>
